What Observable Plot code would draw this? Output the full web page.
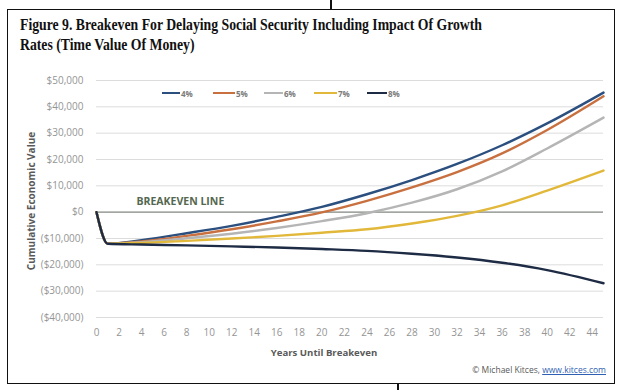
<!DOCTYPE html>
<html>
<head>
<meta charset="utf-8">
<script src="https://cdn.jsdelivr.net/npm/d3@7"></script>
<script src="https://cdn.jsdelivr.net/npm/@observablehq/plot@0.6"></script>
<style>
  html, body { margin: 0; padding: 0; background: #fff; }
  #wrap { position: relative; width: 624px; height: 390px; overflow: hidden; background: #fff; font-family: "Open Sans", sans-serif; }
  #frame { position: absolute; left: 7px; top: 9px; width: 608px; height: 375px; border: 1.5px solid #111; box-sizing: border-box; }
  .tick { position: absolute; width: 1.5px; background: #111; }
  #title { position: absolute; left: 20px; top: 15px; font-family: "Liberation Serif", "Times New Roman", serif; font-weight: bold; font-size: 17px; line-height: 19.5px; color: #111; white-space: nowrap; }
  #title span { display: inline-block; transform-origin: 0 0; }
  #plot { position: absolute; left: 0; top: 70px; }
  #ytitle { position: absolute; left: 31px; top: 201px; transform: translate(-50%, -50%) rotate(-90deg); font-weight: bold; font-size: 10px; color: #595959; white-space: nowrap; }
  #xtitle { position: absolute; left: 324px; top: 352px; transform: translate(-50%, -50%); font-weight: bold; font-size: 9.6px; color: #595959; white-space: nowrap; }
  #legend { position: absolute; top: 87px; left: 162px; height: 12px; font-size: 8px; font-weight: bold; color: #7a7a7a; white-space: nowrap; }
  .lg { position: absolute; top: 0; display: flex; align-items: center; height: 12px; }
  .sw { display: inline-block; height: 2.6px; margin-right: 1px; }
  #caption { position: absolute; right: 18px; top: 364px; font-size: 8.5px; color: #595959; white-space: nowrap; }
  #caption a { color: #2f5fb3; text-decoration: underline; }
</style>
</head>
<body>
<div id="wrap">
  <div id="frame"></div>
  <div class="tick" style="left:330px; top:0; height:9px;"></div>
  <div class="tick" style="left:397px; top:384px; height:6px;"></div>
  <div id="title"><span id="t1">Figure 9. Breakeven For Delaying Social Security Including Impact Of Growth</span><br><span id="t2">Rates (Time Value Of Money)</span></div>
  <div id="plot"></div>
  <div id="ytitle">Cumulative Economic Value</div>
  <div id="xtitle">Years Until Breakeven</div>
  <div id="legend"></div>
  <div id="caption">© Michael Kitces, <a>www.kitces.com</a></div>
</div>
<script>
// ---- data ----
const years   = [0, 1, 4, 8, 12, 16, 20, 24, 28, 32, 36, 40, 45];
const rate4   = [0, -12000, -10600, -8000, -5200, -1800, 2000, 6800, 12200, 18300, 25400, 33700, 45400];
const rate5   = [0, -12000, -11100, -9000, -6500, -3500, -100, 4300, 9400, 15200, 22300, 31200, 44000];
const rate6   = [0, -12000, -11400, -9900, -8200, -6000, -3400, -400, 3600, 8700, 15500, 24200, 35900];
const rate7   = [0, -12000, -11700, -10900, -10000, -9000, -7800, -6500, -4300, -1400, 2600, 8200, 15800];
const rate8   = [0, -12000, -12300, -12600, -13000, -13400, -14000, -14700, -15800, -17200, -19200, -22000, -27000];
const seriesNames = ["4%", "5%", "6%", "7%", "8%"];
const seriesValues = [rate4, rate5, rate6, rate7, rate8];
const seriesColors = ["#2b4f7e", "#c8703f", "#b5b5b5", "#e2b83a", "#1e2b44"];
const xTicks = [0,2,4,6,8,10,12,14,16,18,20,22,24,26,28,30,32,34,36,38,40,42,44];
const yTicks = [-40000,-30000,-20000,-10000,0,10000,20000,30000,40000,50000];
const breakevenValue = 0;
const breakevenLabel = "BREAKEVEN LINE";

// ---- table ----
const rows = [];
seriesNames.forEach((name, i) => {
  years.forEach((yr, j) => rows.push({series: name, year: yr, value: seriesValues[i][j]}));
});

const fmt = d => {
  const s = "$" + d3.format(",")(Math.abs(d));
  return d < 0 ? "(" + s + ")" : s;
};

const chart = Plot.plot({
  width: 624,
  height: 280,
  marginLeft: 96,
  marginRight: 21,
  marginTop: 10,
  marginBottom: 33,
  style: {fontFamily: "Open Sans, sans-serif", fontSize: "10px", color: "#959595", background: "transparent"},
  x: {domain: [0, 45], ticks: xTicks, tickFormat: d => String(d), tickSize: 0, tickPadding: 11, label: null},
  y: {domain: [-40000, 50000], ticks: yTicks, tickFormat: fmt, tickSize: 0, tickPadding: 13, label: null},
  color: {domain: seriesNames, range: seriesColors},
  marks: [
    Plot.gridY(yTicks, {stroke: "#dcdcdc", strokeOpacity: 1, strokeWidth: 1}),
    Plot.ruleY([breakevenValue], {stroke: "#8a9088", strokeWidth: 1.4}),
    Plot.line(rows, {x: "year", y: "value", z: "series", stroke: "series", strokeWidth: 2.4, curve: "monotone-x"}),
    Plot.text([breakevenLabel], {x: () => years[0], y: () => breakevenValue, text: d => d, textAnchor: "start", dx: 40, dy: -11, fill: "#55684f", fontWeight: "bold", fontSize: 10.5})
  ]
});
document.getElementById("plot").appendChild(chart);

// legend
const legend = document.getElementById("legend");
const legendOffsets = [0, 51, 102, 152, 205];
const swatchWidths = [18, 22, 19, 23, 20];
seriesNames.forEach((name, i) => {
  const item = document.createElement("div");
  item.className = "lg";
  item.style.left = legendOffsets[i] + "px";
  const sw = document.createElement("span");
  sw.className = "sw";
  sw.style.width = swatchWidths[i] + "px";
  sw.style.background = seriesColors[i];
  item.appendChild(sw);
  const t = document.createElement("span");
  t.textContent = name;
  item.appendChild(t);
  legend.appendChild(item);
});

// condense title to match original width
const t1 = document.getElementById("t1"), t2 = document.getElementById("t2");
const w = t1.getBoundingClientRect().width;
const s = 462 / w;
t1.style.transform = "scaleX(" + s + ")";
t2.style.transform = "scaleX(" + s + ")";
</script>
</body>
</html>
